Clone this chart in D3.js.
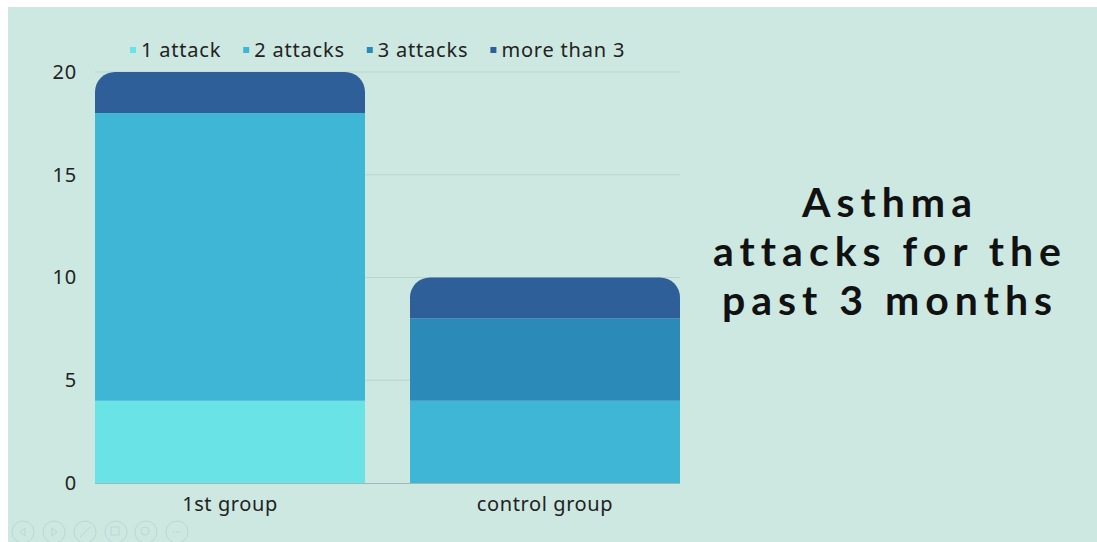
<!DOCTYPE html>
<html>
<head>
<meta charset="utf-8">
<script src="https://cdn.jsdelivr.net/npm/d3@7"></script>
<style>
  body { margin: 0; background: #fff; }
  svg { display: block; }
  .tick text { font-family: "Noto Sans", sans-serif; }
</style>
</head>
<body>
<div class="cont"></div>
<script>
var w = 1097,
    h = 542;

// data
var groups = ["1st group", "control group"];
var seriesNames = ["1 attack", "2 attacks", "3 attacks", "more than 3"];
var oneAttack = [4, 0];
var twoAttacks = [14, 4];
var threeAttacks = [0, 4];
var moreThan3 = [2, 2];
var yTicks = [0, 5, 10, 15, 20];
var titleLines = ["Asthma", "attacks for the", "past 3 months"];

var colors = ["#69e3e6", "#40b6d6", "#2b8ab8", "#2e5f98"];

var rows = groups.map(function (g, i) {
  return { group: g, "1 attack": oneAttack[i], "2 attacks": twoAttacks[i],
    "3 attacks": threeAttacks[i], "more than 3": moreThan3[i] };
});

var svg = d3.select(".cont").append("svg")
  .attr("width", w)
  .attr("height", h);

svg.append("rect")
  .attr("x", 8).attr("y", 7)
  .attr("width", w - 8).attr("height", h - 7)
  .attr("fill", "#cde8e1");

var x = d3.scaleBand()
  .domain(groups)
  .range([95, 680])
  .paddingInner(45 / 315)
  .paddingOuter(0);

var y = d3.scaleLinear()
  .domain([0, 20])
  .range([483, 72]);

var color = d3.scaleOrdinal().domain(seriesNames).range(colors);

// gridlines
svg.append("g")
  .selectAll("line")
  .data(yTicks.slice(1))
  .enter().append("line")
  .attr("x1", 95).attr("x2", 680)
  .attr("y1", function (d) { return y(d); })
  .attr("y2", function (d) { return y(d); })
  .attr("stroke", "#b7d5cf")
  .attr("stroke-width", 1);

// y axis
var yAxis = d3.axisLeft(y).tickValues(yTicks).tickSize(0).tickPadding(18);
var yg = svg.append("g").attr("transform", "translate(95,0)").call(yAxis);
yg.select(".domain").remove();
yg.selectAll("text").attr("font-size", 20).attr("letter-spacing", 0.8).attr("fill", "#222");

// stacked bars
var stack = d3.stack().keys(seriesNames);
var layers = stack(rows);

function topIndex(i) {
  var idx = -1;
  seriesNames.forEach(function (k, j) { if (rows[i][k] > 0) idx = j; });
  return idx;
}

var r = 20;
layers.forEach(function (layer, j) {
  layer.forEach(function (d, i) {
    if (d[1] - d[0] <= 0) return;
    var x0 = x(groups[i]), bw = x.bandwidth();
    var yTop = y(d[1]), yBot = y(d[0]);
    var p;
    if (topIndex(i) === j) {
      p = "M" + x0 + "," + yBot +
        "V" + (yTop + r) +
        "A" + r + "," + r + " 0 0 1 " + (x0 + r) + "," + yTop +
        "H" + (x0 + bw - r) +
        "A" + r + "," + r + " 0 0 1 " + (x0 + bw) + "," + (yTop + r) +
        "V" + yBot + "Z";
    } else {
      p = "M" + x0 + "," + yBot + "V" + yTop + "H" + (x0 + bw) + "V" + yBot + "Z";
    }
    svg.append("path").attr("d", p).attr("fill", color(layer.key));
  });
});

// x axis
var xAxis = d3.axisBottom(x).tickSize(0).tickPadding(14);
var xg = svg.append("g").attr("transform", "translate(0,483)").call(xAxis);
xg.select(".domain").attr("stroke", "#9fb7b6").attr("d", "M95,0.5H680");
xg.selectAll("text").attr("font-size", 20).attr("letter-spacing", 0.6).attr("fill", "#222");

// legend
var legend = svg.append("g").attr("transform", "translate(130,50)");
var lx = 0;
seriesNames.forEach(function (s, i) {
  var it = legend.append("g").attr("transform", "translate(" + lx + ",0)");
  it.append("rect").attr("x", 0).attr("y", -3).attr("width", 6).attr("height", 6)
    .attr("fill", colors[i]);
  var t = it.append("text").attr("x", 11).attr("y", 0).attr("dy", "0.35em")
    .attr("font-family", "Noto Sans, sans-serif").attr("font-size", 20)
    .attr("letter-spacing", 0.8)
    .attr("fill", "#222").text(s);
  lx += 11 + t.node().getComputedTextLength() + 22;
});

// title
var title = svg.append("text")
  .attr("text-anchor", "middle")
  .attr("font-family", "Lato, sans-serif")
  .attr("font-weight", "bold")
  .attr("font-size", 41)
  .attr("letter-spacing", 6)
  .attr("fill", "#111");
titleLines.forEach(function (l, i) {
  title.append("tspan").attr("x", 890).attr("y", 217 + i * 49).text(l);
});

// faint slideshow controls bottom-left
var ctl = svg.append("g").attr("opacity", 0.35).attr("stroke", "#9bb").attr("fill", "none");
[23, 54, 85, 116, 146, 177].forEach(function (cx) {
  ctl.append("circle").attr("cx", cx).attr("cy", 532).attr("r", 11).attr("stroke-width", 1);
});
ctl.append("path").attr("d", "M25,528L20,532L25,536Z");
ctl.append("path").attr("d", "M52,528L57,532L52,536Z");
ctl.append("path").attr("d", "M80,537L90,527");
ctl.append("rect").attr("x", 111).attr("y", 527).attr("width", 8).attr("height", 8);
ctl.append("circle").attr("cx", 145).attr("cy", 531).attr("r", 4);
ctl.append("path").attr("d", "M173,532H181").attr("stroke-dasharray", "2,1");
</script>
</body>
</html>
